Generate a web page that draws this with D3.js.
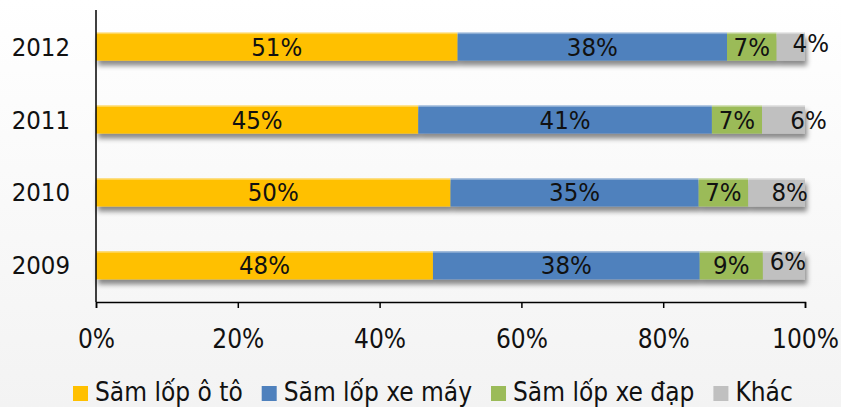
<!DOCTYPE html>
<html>
<head>
<meta charset="utf-8">
<script src="https://cdn.jsdelivr.net/npm/d3@7"></script>
<style>
  html, body { margin: 0; padding: 0; background: #fff; }
  svg { display: block; }
  text { font-family: "DejaVu Sans Condensed", "DejaVu Sans", sans-serif; font-stretch: condensed; fill: #111; }
</style>
</head>
<body>
<svg id="chart" width="841" height="407"></svg>
<script>
// Years, top to bottom
const years = ["2012", "2011", "2010", "2009"];
// Series names and colours
const seriesNames = ["Săm lốp ô tô", "Săm lốp xe máy", "Săm lốp xe đạp", "Khác"];
const seriesColors = ["#FFC000", "#4F81BD", "#9BBB59", "#C0C0C0"];
// Shares (%) per year, same order as years
const oto    = [51, 45, 50, 48];
const xemay  = [38, 41, 35, 38];
const xedap  = [7, 7, 7, 9];
const khac   = [4, 6, 8, 6];
// X axis ticks
const xTicks = [0, 20, 40, 60, 80, 100];

// Hand-placed nudges for the "Khác" labels [dx, dy]
const khacNudge = [[20, -4], [25, 0], [13, 0], [4, -4]];

const svg = d3.select("#chart");
const W = 841, H = 407;

const defs = svg.append("defs");
const bg = defs.append("linearGradient").attr("id", "bg").attr("x1", 0).attr("y1", 0).attr("x2", 0).attr("y2", 1);
bg.append("stop").attr("offset", "0%").attr("stop-color", "#ffffff");
bg.append("stop").attr("offset", "100%").attr("stop-color", "#f3f3f3");
const sh = defs.append("filter").attr("id", "shadow").attr("x", "-5%").attr("y", "-30%").attr("width", "110%").attr("height", "180%");
sh.append("feDropShadow").attr("dx", 2).attr("dy", 5).attr("stdDeviation", 2.5)
  .attr("flood-color", "#000").attr("flood-opacity", 0.45);

svg.append("rect").attr("width", W).attr("height", H).attr("fill", "url(#bg)");

const x = d3.scaleLinear().domain([0, 100]).range([96, 805]);
const y = d3.scaleBand().domain(years).range([10, 302]).paddingInner(0.615).paddingOuter(0.31);

const series = [oto, xemay, xedap, khac];
const rows = years.map((yr, i) => {
  const vals = series.map(s => s[i]);
  const total = d3.sum(vals);
  let acc = 0;
  return { year: yr, idx: i, segs: vals.map((v, k) => {
    const s = { k, v, x0: acc / total * 100, x1: (acc + v) / total * 100 };
    acc += v;
    return s;
  })};
});

const rowG = svg.append("g").selectAll("g.row").data(rows).join("g")
  .attr("class", "row")
  .attr("transform", d => `translate(0,${y(d.year)})`);

const barsG = rowG.append("g").attr("filter", "url(#shadow)");
barsG.selectAll("rect").data(d => d.segs).join("rect")
  .attr("x", s => x(s.x0))
  .attr("width", s => x(s.x1) - x(s.x0))
  .attr("y", 0)
  .attr("height", y.bandwidth())
  .attr("fill", s => seriesColors[s.k]);
// light top edge
rowG.selectAll("rect.hl").data(d => d.segs).join("rect")
  .attr("class", "hl")
  .attr("x", s => x(s.x0))
  .attr("width", s => x(s.x1) - x(s.x0))
  .attr("y", 0).attr("height", 1.5)
  .attr("fill", "#fff").attr("opacity", 0.35);

rowG.selectAll("text.lbl").data(d => d.segs.map(s => ({ ...s, row: d.idx }))).join("text")
  .attr("class", "lbl")
  .attr("x", s => (x(s.x0) + x(s.x1)) / 2 + (s.k === 3 ? khacNudge[s.row][0] : 0))
  .attr("y", s => y.bandwidth() / 2 + 9 + (s.k === 3 ? khacNudge[s.row][1] : 0))
  .attr("text-anchor", "middle")
  .attr("font-size", 25.5)
  .text(s => s.v + "%");

// Y axis: line + year labels
svg.append("line").attr("x1", 96).attr("x2", 96).attr("y1", 10).attr("y2", 302)
  .attr("stroke", "#000").attr("stroke-width", 1.5);
svg.append("g").selectAll("text").data(years).join("text")
  .attr("x", 70)
  .attr("y", d => y(d) + y.bandwidth() / 2 + 9)
  .attr("text-anchor", "end")
  .attr("font-size", 25.5)
  .text(d => d);

// X axis
const xAxis = svg.append("g").attr("transform", "translate(0,302)")
  .call(d3.axisBottom(x).tickValues(xTicks).tickSize(6).tickPadding(22).tickFormat(d => d + "%"));
xAxis.select(".domain").attr("stroke", "#000").attr("stroke-width", 1.5);
xAxis.selectAll(".tick line").attr("stroke", "#000").attr("stroke-width", 1.5);
xAxis.selectAll(".tick text")
  .attr("font-size", 26)
  .attr("font-family", null)
  .attr("fill", "#111");

// Legend
const leg = svg.append("g");
let lx = 73;
seriesNames.forEach((name, k) => {
  leg.append("rect").attr("x", lx).attr("y", 386).attr("width", 15).attr("height", 15).attr("fill", seriesColors[k]);
  const t = leg.append("text").attr("x", lx + 22).attr("y", 401).attr("font-size", 26).text(name);
  lx += 22 + t.node().getComputedTextLength() + 19;
});
</script>
</body>
</html>
